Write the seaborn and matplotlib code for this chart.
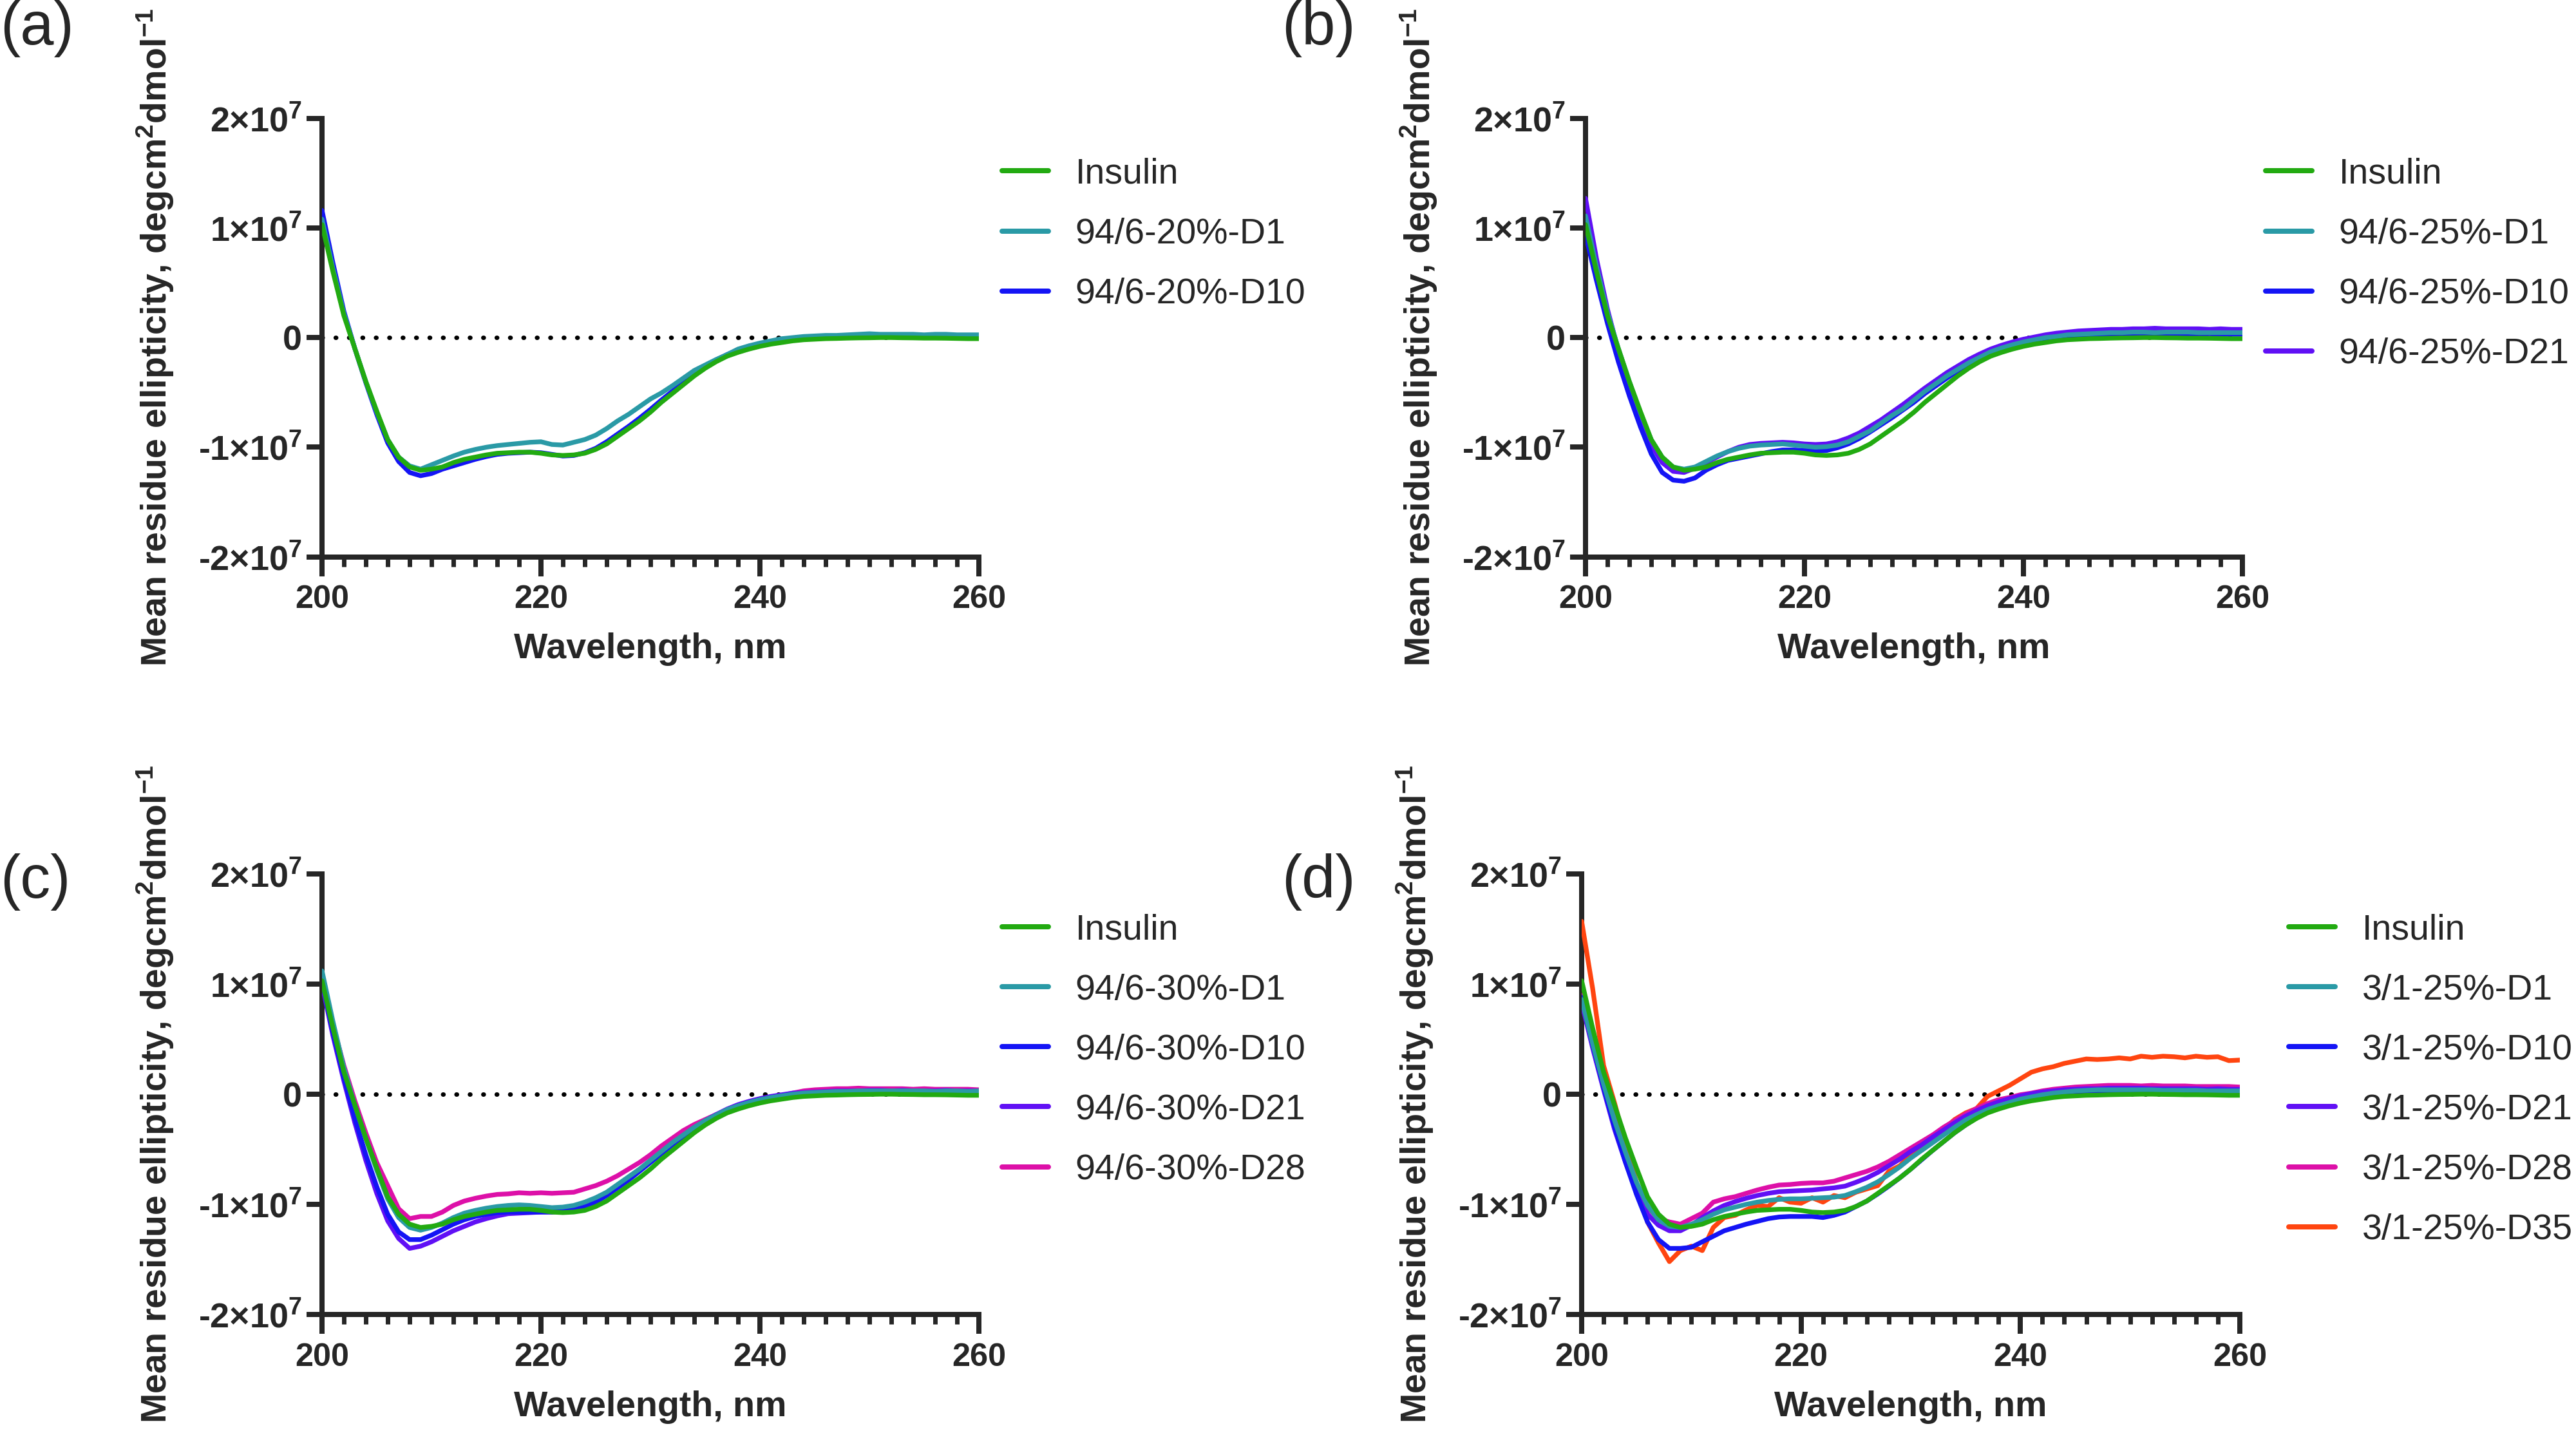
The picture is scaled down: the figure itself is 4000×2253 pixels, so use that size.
import numpy as np
import pandas as pd
import matplotlib
matplotlib.use("Agg")
import matplotlib.pyplot as plt
import seaborn as sns
from matplotlib.ticker import MultipleLocator

# wavelength grid, nm
wl = list(range(200, 261))

# mean residue ellipticity, in units of 1e6 deg cm2 dmol-1
insulin = [10.3, 6.0, 2.0, -1.0, -4.0, -6.7, -9.3, -10.9, -11.8, -12.1,
           -12.0, -11.8, -11.4, -11.1, -10.9, -10.7, -10.55, -10.5, -10.45, -10.45,
           -10.55, -10.7, -10.75, -10.7, -10.55, -10.2, -9.7, -9.0, -8.3, -7.6,
           -6.8, -5.9, -5.1, -4.3, -3.5, -2.8, -2.2, -1.7, -1.35, -1.05,
           -0.8, -0.6, -0.45, -0.3, -0.2, -0.15, -0.1, -0.08, -0.05, -0.03,
           -0.02, 0.0, 0.0, -0.02, -0.03, -0.05, -0.05, -0.06, -0.08, -0.1, -0.1]

a_d1 = [10.8, 6.3, 2.2, -1.0, -4.0, -6.8, -9.3, -10.9, -11.7, -12.0,
        -11.6, -11.2, -10.8, -10.45, -10.2, -10.0, -9.85, -9.75, -9.65, -9.55,
        -9.5, -9.75, -9.8, -9.55, -9.3, -8.9, -8.3, -7.6, -7.0, -6.3,
        -5.6, -5.05, -4.4, -3.7, -3.0, -2.5, -2.0, -1.55, -1.05, -0.75,
        -0.5, -0.3, -0.1, 0.0, 0.1, 0.15, 0.2, 0.2, 0.25, 0.3,
        0.35, 0.3, 0.3, 0.3, 0.3, 0.25, 0.3, 0.3, 0.25, 0.25, 0.25]
a_d10 = [11.6, 6.8, 2.4, -1.0, -4.1, -7.0, -9.6, -11.3, -12.3, -12.6,
         -12.4, -12.0, -11.7, -11.4, -11.1, -10.85, -10.65, -10.55, -10.5, -10.45,
         -10.5, -10.65, -10.8, -10.75, -10.5, -10.1, -9.5, -8.8, -8.1, -7.35,
         -6.55, -5.7, -4.9, -4.1, -3.35, -2.65, -2.05, -1.55, -1.15, -0.85,
         -0.6, -0.4, -0.25, -0.1, 0.0, 0.05, 0.1, 0.1, 0.15, 0.15,
         0.2, 0.2, 0.2, 0.15, 0.2, 0.2, 0.15, 0.15, 0.2, 0.15, 0.15]

b_d1 = [11.1, 6.5, 2.3, -1.0, -4.0, -6.8, -9.3, -10.9, -11.8, -12.0,
        -11.8, -11.3, -10.8, -10.4, -10.1, -9.9, -9.8, -9.75, -9.7, -9.8,
        -9.9, -10.0, -9.95, -9.8, -9.5, -9.0, -8.5, -7.8, -7.1, -6.5,
        -5.7, -4.9, -4.2, -3.5, -2.9, -2.3, -1.8, -1.3, -0.95, -0.65,
        -0.4, -0.2, 0.0, 0.1, 0.25, 0.3, 0.35, 0.4, 0.45, 0.45,
        0.5, 0.5, 0.45, 0.5, 0.5, 0.5, 0.45, 0.45, 0.45, 0.45, 0.45]
b_d10 = [9.4, 5.2, 1.3, -2.2, -5.3, -8.1, -10.6, -12.3, -13.0, -13.1,
         -12.8, -12.1, -11.6, -11.2, -11.0, -10.8, -10.6, -10.4, -10.25, -10.25,
         -10.3, -10.35, -10.3, -10.05, -9.7, -9.2, -8.6, -7.95, -7.3, -6.6,
         -5.9, -5.1, -4.4, -3.7, -3.05, -2.45, -1.95, -1.45, -1.05, -0.75,
         -0.5, -0.3, -0.1, 0.0, 0.1, 0.2, 0.25, 0.3, 0.3, 0.35,
         0.35, 0.35, 0.35, 0.3, 0.35, 0.3, 0.3, 0.35, 0.3, 0.3, 0.3]
b_d21 = [12.7, 7.2, 2.6, -1.2, -4.4, -7.3, -9.8, -11.4, -12.2, -12.3,
         -11.9, -11.4, -10.9, -10.4, -10.0, -9.75, -9.65, -9.6, -9.55, -9.6,
         -9.7, -9.75, -9.7, -9.5, -9.15, -8.7, -8.1, -7.5, -6.8, -6.1,
         -5.35, -4.6, -3.9, -3.2, -2.6, -2.0, -1.5, -1.05, -0.7, -0.4,
         -0.15, 0.05, 0.25, 0.4, 0.5, 0.6, 0.65, 0.7, 0.75, 0.75,
         0.8, 0.8, 0.85, 0.8, 0.8, 0.8, 0.8, 0.75, 0.8, 0.75, 0.75]

c_d1 = [11.2, 6.6, 2.4, -1.0, -4.0, -6.9, -9.5, -11.2, -12.1, -12.35,
        -12.1, -11.7, -11.2, -10.8, -10.55, -10.35, -10.2, -10.1, -10.05, -10.1,
        -10.2, -10.3, -10.25, -10.1, -9.8, -9.4, -8.9, -8.2, -7.5, -6.8,
        -6.0, -5.2, -4.4, -3.7, -3.0, -2.4, -1.9, -1.4, -1.05, -0.75,
        -0.5, -0.3, -0.15, 0.0, 0.1, 0.15, 0.2, 0.25, 0.25, 0.3,
        0.3, 0.3, 0.3, 0.3, 0.3, 0.3, 0.25, 0.3, 0.3, 0.25, 0.3]
c_d10 = [10.3, 5.6, 1.5, -2.2, -5.5, -8.4, -10.9, -12.5, -13.2, -13.2,
         -12.8, -12.3, -11.8, -11.4, -11.1, -10.9, -10.75, -10.7, -10.7, -10.7,
         -10.7, -10.7, -10.65, -10.5, -10.25, -9.8, -9.2, -8.5, -7.8, -7.0,
         -6.2, -5.4, -4.6, -3.85, -3.15, -2.5, -1.95, -1.45, -1.05, -0.75,
         -0.5, -0.3, -0.15, 0.0, 0.05, 0.1, 0.15, 0.2, 0.2, 0.25,
         0.25, 0.25, 0.25, 0.2, 0.25, 0.25, 0.2, 0.2, 0.25, 0.2, 0.2]
c_d21 = [10.0, 5.3, 1.2, -2.6, -6.0, -9.0, -11.5, -13.1, -14.0, -13.8,
         -13.4, -12.9, -12.4, -12.0, -11.6, -11.3, -11.05, -10.85, -10.8, -10.75,
         -10.7, -10.7, -10.6, -10.45, -10.2, -9.75, -9.15, -8.45, -7.7, -6.9,
         -6.1, -5.3, -4.5, -3.75, -3.05, -2.4, -1.85, -1.35, -0.95, -0.65,
         -0.4, -0.2, -0.05, 0.1, 0.15, 0.2, 0.25, 0.3, 0.3, 0.3,
         0.35, 0.35, 0.3, 0.35, 0.3, 0.3, 0.3, 0.35, 0.3, 0.3, 0.3]
c_d28 = [10.5, 6.3, 2.6, -0.6, -3.5, -6.2, -8.3, -10.4, -11.3, -11.1,
         -11.1, -10.7, -10.1, -9.7, -9.45, -9.25, -9.1, -9.05, -8.95, -9.0,
         -8.95, -9.0, -8.95, -8.9, -8.6, -8.3, -7.9, -7.4, -6.8, -6.2,
         -5.5, -4.7, -4.0, -3.3, -2.75, -2.3, -1.85, -1.45, -1.1, -0.8,
         -0.55, -0.35, -0.1, 0.1, 0.3, 0.4, 0.45, 0.5, 0.5, 0.55,
         0.5, 0.5, 0.5, 0.5, 0.45, 0.5, 0.45, 0.45, 0.45, 0.45, 0.4]

d_d1 = [8.6, 4.6, 0.9, -2.4, -5.3, -8.0, -10.1, -11.4, -12.0, -12.1,
        -11.8, -11.4, -10.9, -10.5, -10.25, -10.0, -9.8, -9.65, -9.55, -9.5,
        -9.5, -9.45, -9.4, -9.35, -9.2, -8.85, -8.45, -7.95, -7.3, -6.6,
        -5.8, -5.1, -4.4, -3.7, -3.0, -2.35, -1.85, -1.4, -1.05, -0.75,
        -0.45, -0.25, -0.05, 0.1, 0.2, 0.3, 0.35, 0.4, 0.4, 0.4,
        0.4, 0.4, 0.4, 0.35, 0.35, 0.35, 0.35, 0.3, 0.3, 0.3, 0.3]
d_d10 = [8.8, 4.5, 0.6, -3.0, -6.2, -9.1, -11.6, -13.2, -14.0, -14.0,
         -13.9, -13.4, -12.9, -12.4, -12.1, -11.8, -11.55, -11.3, -11.15, -11.1,
         -11.1, -11.1, -11.2, -11.0, -10.7, -10.2, -9.7, -9.05, -8.35, -7.6,
         -6.8, -5.95, -5.1, -4.3, -3.5, -2.8, -2.15, -1.6, -1.15, -0.8,
         -0.5, -0.3, -0.1, 0.05, 0.15, 0.2, 0.25, 0.3, 0.3, 0.35,
         0.35, 0.35, 0.35, 0.35, 0.3, 0.35, 0.3, 0.3, 0.3, 0.3, 0.3]
d_d21 = [8.3, 4.2, 0.4, -3.2, -6.2, -8.9, -10.9, -11.9, -12.4, -12.4,
         -11.9, -11.2, -10.6, -10.1, -9.75, -9.45, -9.2, -9.0, -8.85, -8.8,
         -8.75, -8.7, -8.6, -8.5, -8.35, -8.0, -7.6, -7.1, -6.5, -5.9,
         -5.2, -4.6, -3.9, -3.25, -2.6, -2.0, -1.5, -1.05, -0.7, -0.4,
         -0.15, 0.05, 0.2, 0.3, 0.4, 0.45, 0.5, 0.5, 0.55, 0.55,
         0.55, 0.55, 0.5, 0.5, 0.5, 0.5, 0.5, 0.45, 0.5, 0.45, 0.45]
d_d28 = [9.0, 5.0, 1.2, -2.3, -5.4, -8.2, -10.3, -11.3, -11.6, -11.8,
         -11.3, -10.8, -9.8, -9.5, -9.3, -9.0, -8.7, -8.45, -8.25, -8.2,
         -8.1, -8.05, -8.05, -7.9, -7.6, -7.3, -7.0, -6.6, -6.1, -5.5,
         -4.9, -4.3, -3.7, -3.0, -2.4, -1.8, -1.3, -0.85, -0.5, -0.3,
         -0.05, 0.1, 0.3, 0.45, 0.55, 0.65, 0.7, 0.75, 0.8, 0.8,
         0.8, 0.75, 0.8, 0.75, 0.75, 0.75, 0.7, 0.7, 0.7, 0.7, 0.65]
d_d35 = [15.7, 9.6, 2.6, -0.8, -4.5, -8.0, -11.6, -13.5, -15.2, -14.2,
         -13.8, -14.2, -12.1, -11.2, -11.0, -10.5, -10.1, -10.2, -9.4, -9.8,
         -9.9, -9.4, -9.8, -9.2, -9.4, -8.9, -8.6, -8.3, -7.0, -6.5,
         -5.5, -4.9, -4.3, -3.2, -2.3, -1.7, -1.3, -0.2, 0.3, 0.8,
         1.4, 2.0, 2.3, 2.5, 2.8, 3.0, 3.2, 3.15, 3.2, 3.3,
         3.2, 3.45, 3.35, 3.45, 3.4, 3.3, 3.45, 3.35, 3.4, 3.05, 3.1]

panel_tags = ["(a)", "(b)", "(c)", "(d)"]
panel_names = [
    ["Insulin", "94/6-20%-D1", "94/6-20%-D10"],
    ["Insulin", "94/6-25%-D1", "94/6-25%-D10", "94/6-25%-D21"],
    ["Insulin", "94/6-30%-D1", "94/6-30%-D10", "94/6-30%-D21", "94/6-30%-D28"],
    ["Insulin", "3/1-25%-D1", "3/1-25%-D10", "3/1-25%-D21", "3/1-25%-D28", "3/1-25%-D35"],
]
panel_values = [
    [insulin, a_d1, a_d10],
    [insulin, b_d1, b_d10, b_d21],
    [insulin, c_d1, c_d10, c_d21, c_d28],
    [insulin, d_d1, d_d10, d_d21, d_d28, d_d35],
]
colors = ["#22aa11", "#2a9aa6", "#1414f5", "#6010f5", "#dd10a8", "#ff4510"]

xticks = [200, 220, 240, 260]
yticks = [-2e7, -1e7, 0, 1e7, 2e7]
ytick_labels = ["-2×10$^{7}$", "-1×10$^{7}$", "0", "1×10$^{7}$", "2×10$^{7}$"]

sns.set_style("ticks")
plt.rcParams["font.family"] = ["Liberation Sans", "DejaVu Sans"]
plt.rcParams["mathtext.fontset"] = "custom"
plt.rcParams["mathtext.rm"] = "Liberation Sans:bold"
plt.rcParams["mathtext.bf"] = "Liberation Sans:bold"
plt.rcParams["mathtext.default"] = "rm"

fig = plt.figure(figsize=(16, 9.012), dpi=250)
positions = [
    [0.125, 0.6162, 0.255, 0.3023],
    [0.6155, 0.6162, 0.255, 0.3023],
    [0.125, 0.0941, 0.255, 0.3036],
    [0.614, 0.0941, 0.2555, 0.3036],
]
leg_x = [1.035, 1.035, 1.035, 1.074]
tag_pos = [(0.0, 1.0), (0.4975, 1.0), (0.0, 0.412), (0.4975, 0.412)]

for i in range(4):
    ax = fig.add_axes(positions[i])
    names = panel_names[i]
    vals = panel_values[i]
    # last sample drawn first so insulin ends up on top
    for k in range(len(names) - 1, -1, -1):
        df = pd.DataFrame({"wl": wl, "mre": np.array(vals[k]) * 1e6})
        sns.lineplot(data=df, x="wl", y="mre", color=colors[k], lw=2.1,
                     label=names[k], ax=ax, zorder=10 - k)
    ax.axhline(0, color="black", lw=2.0, ls=(0, (0.1, 2.9)),
               dash_capstyle="round", zorder=1)
    ax.set_xlim(200, 260)
    ax.set_ylim(-2e7, 2e7)
    sns.despine(ax=ax)
    for s in ["left", "bottom"]:
        ax.spines[s].set_linewidth(2.3)
    ax.set_xticks(xticks)
    ax.set_xticklabels([str(t) for t in xticks], fontweight="bold", fontsize=14.5)
    ax.xaxis.set_minor_locator(MultipleLocator(2))
    ax.set_yticks(yticks)
    ax.set_yticklabels(ytick_labels, fontweight="bold", fontsize=15.5)
    ax.tick_params(axis="y", which="major", length=7, width=2.3, pad=2)
    ax.tick_params(axis="x", which="major", length=8.6, width=2.3, pad=4)
    ax.tick_params(axis="x", which="minor", length=4.3, width=2.0)
    ax.set_xlabel("Wavelength, nm", fontweight="bold", fontsize=16, labelpad=8)
    ax.set_ylabel("Mean residue ellipticity, degcm$^{2}$dmol$^{-1}$",
                  fontweight="bold", fontsize=16, labelpad=10)

    h, l = ax.get_legend_handles_labels()
    leg = ax.legend(h[::-1], l[::-1], loc="upper left",
                    bbox_to_anchor=(leg_x[i], 0.91), frameon=False,
                    fontsize=16, handlelength=1.3, handletextpad=0.75,
                    labelspacing=0.74, borderaxespad=0, borderpad=0)
    for ln in leg.get_lines():
        ln.set_linewidth(2.3)

    fig.text(tag_pos[i][0], tag_pos[i][1], panel_tags[i], ha="left", va="top",
             fontsize=27)

fig.savefig("out.png", dpi=250)
